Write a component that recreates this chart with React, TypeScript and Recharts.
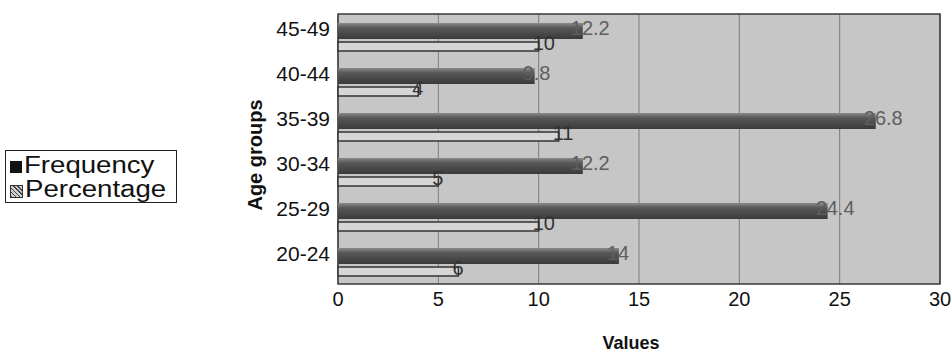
import React from 'react';
import { BarChart, Bar, XAxis, YAxis, CartesianGrid, ReferenceArea, LabelList, Label } from 'recharts';

// --- data, top row of the chart first ---
const ageGroups = ['45-49', '40-44', '35-39', '30-34', '25-29', '20-24'];
const frequency = [10, 4, 11, 5, 10, 6];
const percentage = [12.2, 9.8, 26.8, 12.2, 24.4, 14];
const valueTicks = [0, 5, 10, 15, 20, 25, 30];

const data = ageGroups.map((group, i) => ({
  group,
  frequency: frequency[i],
  percentage: percentage[i],
}));

const FONT = '"Liberation Sans", Arial, Helvetica, sans-serif';

const PercentLabel = (props: any) => {
  const { x, y, width, height, value } = props;
  return (
    <text x={x + width - 12} y={y + height / 2 - 3} fill="#5e5e5e" fontSize={20} fontFamily={FONT} dominantBaseline="central">
      {value}
    </text>
  );
};

const FreqLabel = (props: any) => {
  const { x, y, width, height, value } = props;
  return (
    <text x={x + width - 6} y={y + height / 2 - 4} fill="#333" fontSize={20} fontFamily={FONT} dominantBaseline="central">
      {value}
    </text>
  );
};

const AgeAxisLabel = ({ viewBox }: any) => {
  const x = viewBox.x + viewBox.width - 83;
  const y = viewBox.y + viewBox.height / 2 + 6;
  return (
    <text
      x={x}
      y={y}
      transform={`rotate(-90, ${x}, ${y})`}
      textAnchor="middle"
      dominantBaseline="central"
      fontSize={20}
      fontWeight="bold"
      fontFamily={FONT}
      fill="#111"
    >
      Age groups
    </text>
  );
};

const legendRow: React.CSSProperties = { display: 'flex', alignItems: 'center', height: 24 };
const legendText: React.CSSProperties = { display: 'inline-block', transform: 'scaleX(1.2)', transformOrigin: 'left center' };

export default function App() {
  return (
    <div style={{ position: 'absolute', left: 0, top: 0, width: 952, height: 353, background: '#fff', fontFamily: FONT }}>
      <BarChart
        width={952}
        height={353}
        data={data}
        layout="vertical"
        margin={{ top: 14, right: 12, bottom: 0, left: 0 }}
        barGap={3}
      >
        <defs>
          <linearGradient id="pctFill" x1="0" y1="0" x2="0" y2="1">
            <stop offset="0%" stopColor="#8a8a8a" />
            <stop offset="30%" stopColor="#585858" />
            <stop offset="100%" stopColor="#3a3a3a" />
          </linearGradient>
        </defs>
        <CartesianGrid horizontal={false} stroke="#7c7c7c" fill="#c6c6c6" />
        <XAxis
          type="number"
          domain={[0, 30]}
          ticks={valueTicks}
          axisLine={false}
          tickLine={false}
          height={69}
          tick={{ fontSize: 20, fill: '#111', fontFamily: FONT }}
        >
          <Label value="Values" position="insideBottom" offset={4} dx={-8} fontSize={18} fontWeight="bold" fill="#111" fontFamily={FONT} />
        </XAxis>
        <YAxis
          type="category"
          dataKey="group"
          width={338}
          axisLine={false}
          tickLine={false}
          tick={{ fontSize: 21, fill: '#111', fontFamily: FONT, dy: -8 }}
          label={<AgeAxisLabel />}
        />
        <ReferenceArea x1={0} x2={30} fill="none" stroke="#3a3a3a" strokeWidth={1.5} />
        <Bar dataKey="percentage" name="Percentage" barSize={16} fill="url(#pctFill)" isAnimationActive={false}>
          <LabelList dataKey="percentage" content={<PercentLabel />} />
        </Bar>
        <Bar dataKey="frequency" name="Frequency" barSize={9} fill="#d6d6d6" stroke="#333" strokeWidth={1.5} isAnimationActive={false}>
          <LabelList dataKey="frequency" content={<FreqLabel />} />
        </Bar>
      </BarChart>

      <div
        style={{
          position: 'absolute',
          left: 5,
          top: 150,
          width: 172,
          height: 53,
          boxSizing: 'border-box',
          border: '1px solid #222',
          background: '#fff',
          padding: '2px 0 0 4px',
          fontSize: 23,
          color: '#111',
        }}
      >
        <div style={legendRow}>
          <span style={{ width: 12, height: 12, background: '#111', marginRight: 2, marginTop: 4 }} />
          <span style={legendText}>Frequency</span>
        </div>
        <div style={legendRow}>
          <span
            style={{
              width: 11,
              height: 11,
              border: '1px solid #333',
              marginRight: 2,
              marginTop: 4,
              background: 'repeating-linear-gradient(45deg, #444 0 1px, #d0d0d0 1px 3px)',
            }}
          />
          <span style={legendText}>Percentage</span>
        </div>
      </div>
    </div>
  );
}
